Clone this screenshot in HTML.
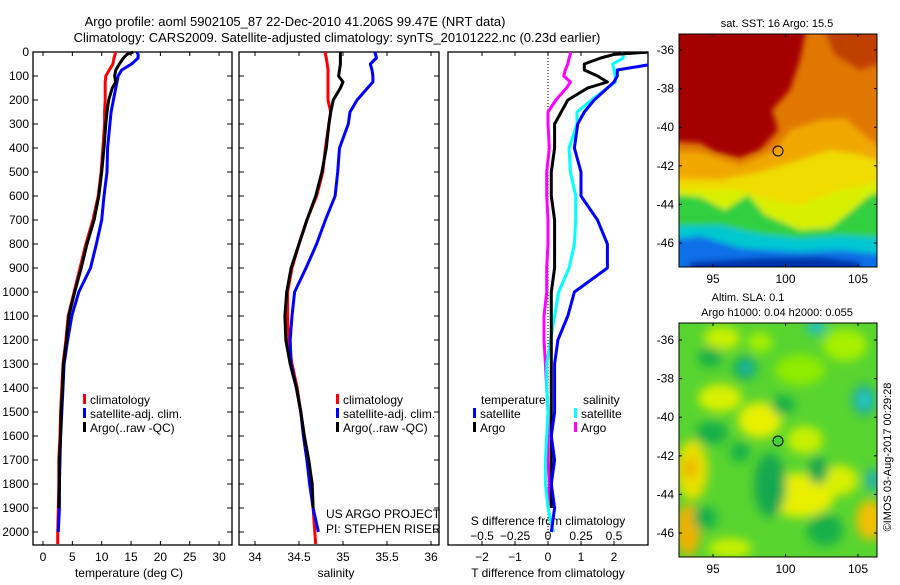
<!DOCTYPE html>
<html><head><meta charset="utf-8">
<style>
html,body{margin:0;padding:0;background:#fff;}
svg text{font-family:"Liberation Sans",sans-serif;fill:#000;}
</style></head>
<body>
<svg id="chart" width="900" height="580" viewBox="0 0 900 580" xmlns="http://www.w3.org/2000/svg">
<defs>
<filter id="blur1" x="-10%" y="-10%" width="120%" height="120%"><feGaussianBlur stdDeviation="3"/></filter>
<filter id="blur2" x="-20%" y="-20%" width="140%" height="140%"><feGaussianBlur stdDeviation="5"/></filter>
<clipPath id="c1"><rect x="448" y="52" width="200" height="493"/></clipPath>
<clipPath id="m1"><rect x="679" y="34" width="198" height="233"/></clipPath>
<clipPath id="m2"><rect x="679" y="323" width="198" height="234"/></clipPath>
</defs>
<text x="295" y="26" font-size="13" text-anchor="middle">Argo profile: aoml 5902105_87 22-Dec-2010 41.206S 99.47E (NRT data)</text>
<text x="337" y="42" font-size="13" text-anchor="middle">Climatology: CARS2009. Satellite-adjusted climatology: synTS_20101222.nc (0.23d earlier)</text>
<g id="g-profiles"></g>
<g id="map1">
 <g clip-path="url(#m1)">
  <rect x="679" y="34" width="198" height="233" fill="#e07800"/>
  <g filter="url(#blur1)">
   <polygon points="820,20 890,20 890,60 860,70 835,55" fill="#c04000"/>
   <polygon points="650,20 808,20 800,60 790,90 772,110 778,130 760,150 740,158 715,152 700,143 650,140" fill="#a40000"/>
   <polygon points="650,150 700,152 740,165 775,150 790,130 820,120 845,118 870,140 890,150 890,280 650,280" fill="#f0a800"/>
   <polygon points="650,178 720,180 760,172 800,160 830,150 860,155 890,165 890,280 650,280" fill="#f0dc00"/>
   <polygon points="650,188 700,190 740,190 770,200 800,205 840,190 890,180 890,280 650,280" fill="#d8f000"/>
   <polygon points="650,192 700,197 725,210 748,195 765,215 800,230 830,228 850,212 870,195 890,190 890,280 650,280" fill="#30d040"/>
   <polygon points="650,226 720,225 760,234 800,238 840,235 890,238 890,280 650,280" fill="#00c8d0"/>
   <polygon points="650,242 700,236 740,248 800,252 840,250 890,255 890,280 650,280" fill="#1070e8"/>
   <polygon points="690,262 760,258 820,257 860,262 860,280 690,280" fill="#0030a8"/>
  </g>
 </g>
 <rect x="679" y="34" width="198" height="233" fill="none" stroke="#000" stroke-width="1"/>
 <circle cx="778" cy="151" r="5" fill="none" stroke="#000" stroke-width="1"/>
 <text x="777" y="27" font-size="11" text-anchor="middle">sat. SST: 16 Argo: 15.5</text>
</g>
<g id="map2">
 <g clip-path="url(#m2)">
  <rect x="679" y="323" width="198" height="234" fill="#58d430"/>
  <g filter="url(#blur2)">
   <ellipse cx="722" cy="338" rx="18" ry="12" fill="#c8f000"/>
   <ellipse cx="760" cy="342" rx="12" ry="10" fill="#a8f000"/>
   <ellipse cx="845" cy="345" rx="22" ry="16" fill="#a8f000"/>
   <ellipse cx="800" cy="370" rx="25" ry="15" fill="#90ec00"/>
   <ellipse cx="720" cy="398" rx="22" ry="14" fill="#d8f000"/>
   <ellipse cx="760" cy="420" rx="22" ry="18" fill="#e8f000"/>
   <ellipse cx="805" cy="440" rx="18" ry="14" fill="#c8f000"/>
   <ellipse cx="692" cy="470" rx="16" ry="30" fill="#e8e000"/>
   <ellipse cx="690" cy="468" rx="7" ry="10" fill="#f0b000"/>
   <ellipse cx="800" cy="495" rx="35" ry="22" fill="#e8f000"/>
   <ellipse cx="840" cy="480" rx="18" ry="15" fill="#d8f000"/>
   <ellipse cx="870" cy="520" rx="14" ry="20" fill="#f0c000"/>
   <ellipse cx="688" cy="530" rx="12" ry="26" fill="#f0b000"/>
   <ellipse cx="730" cy="548" rx="22" ry="10" fill="#c8f000"/>
   <ellipse cx="710" cy="357" rx="12" ry="10" fill="#18b048"/>
   <ellipse cx="745" cy="368" rx="12" ry="12" fill="#18a860"/>
   <ellipse cx="746" cy="368" rx="5" ry="6" fill="#20c0c0"/>
   <ellipse cx="783" cy="405" rx="12" ry="10" fill="#18b048"/>
   <ellipse cx="712" cy="433" rx="16" ry="12" fill="#18b048"/>
   <ellipse cx="740" cy="452" rx="10" ry="10" fill="#18b048"/>
   <ellipse cx="770" cy="485" rx="16" ry="32" fill="#18a850"/>
   <ellipse cx="818" cy="470" rx="10" ry="14" fill="#18a850"/>
   <ellipse cx="864" cy="400" rx="12" ry="15" fill="#20b0a0"/>
   <ellipse cx="864" cy="400" rx="5" ry="7" fill="#20d0d0"/>
   <ellipse cx="873" cy="480" rx="7" ry="12" fill="#20b0b0"/>
   <ellipse cx="816" cy="327" rx="10" ry="8" fill="#20c0c0"/>
   <ellipse cx="825" cy="530" rx="18" ry="16" fill="#18b048"/>
   <ellipse cx="705" cy="518" rx="12" ry="12" fill="#18b048"/>
  </g>
 </g>
 <rect x="679" y="323" width="198" height="234" fill="none" stroke="#000" stroke-width="1"/>
 <circle cx="778" cy="441" r="5" fill="#48d038" stroke="#000" stroke-width="1"/>
 <text x="748" y="301" font-size="11" text-anchor="middle">Altim. SLA: 0.1</text>
 <text x="777" y="316" font-size="11" text-anchor="middle">Argo h1000: 0.04 h2000: 0.055</text>
</g>
<text transform="translate(891,457) rotate(-90)" font-size="11" text-anchor="middle">©IMOS 03-Aug-2017 00:29:28</text>
<g id="g-maps-axes"></g>
</svg>
<script>
const depths = [0,10,25,50,75,100,125,150,200,250,300,400,500,600,700,800,900,1000,1100,1200,1300,1400,1500,1600,1700,1800,1900,2000,2050];
const tClim = [12.3,12.3,12.1,11.9,11.3,10.7,10.6,10.6,10.6,10.5,10.5,10.2,9.9,9.4,8.5,7.3,6.3,5.3,4.3,3.9,3.4,3.2,3.0,2.9,2.7,2.7,2.6,2.5,2.5];
const tSat = [16.0,16.2,16.2,15.1,13.4,12.8,12.6,12.4,12.0,11.6,11.4,11.0,10.9,10.4,10.0,9.1,8.1,6.1,4.9,4.2,3.6,3.4,3.2,3.0,2.9,2.8,2.8,2.6,null];
const tArgo = [15.4,14.3,13.7,13.0,12.4,12.2,12.4,11.8,11.2,10.9,10.7,10.4,10.0,9.5,8.7,7.5,6.5,5.4,4.4,4.0,3.5,3.3,3.1,3.0,2.8,2.8,2.7,null,null];
const sClim = [34.80,34.80,34.81,34.82,34.83,34.83,34.83,34.83,34.83,34.86,34.84,34.80,34.77,34.70,34.59,34.50,34.42,34.37,34.37,34.38,34.42,34.48,34.52,34.56,34.61,34.64,34.66,34.68,34.69];
const sSat = [35.36,35.37,35.38,35.31,35.33,35.34,35.34,35.28,35.16,35.08,35.06,34.96,34.94,34.91,34.80,34.70,34.58,34.45,34.42,34.40,34.41,34.47,34.52,34.55,34.59,34.62,34.66,34.72,null];
const sArgo = [34.97,34.97,34.97,34.97,34.96,34.95,35.00,34.97,34.89,34.86,34.84,34.81,34.76,34.69,34.59,34.50,34.41,34.36,34.34,34.35,34.40,34.47,34.52,34.56,34.61,34.65,34.66,null,null];
const depthTicks = [0,100,200,300,400,500,600,700,800,900,1000,1100,1200,1300,1400,1500,1600,1700,1800,1900,2000];
const tTicks = [0,5,10,15,20,25,30];
const sTicks = [34,34.5,35,35.5,36];
const tdTicks = [-2,-1,0,1,2];
const tdLabels = ["\u22122","\u22121","0","1","2"];
const sdTicks = [-0.5,-0.25,0,0.25,0.5];
const sdLabels = ["\u22120.5","\u22120.25","0","0.25","0.5"];
const lonTicks = [95,100,105];
const latTicks = [-36,-38,-40,-42,-44,-46];

const NS='http://www.w3.org/2000/svg';
const root=document.getElementById('g-profiles');
function mk(tag,attrs,parent){const e=document.createElementNS(NS,tag);for(const k in attrs)e.setAttribute(k,attrs[k]);(parent||root).appendChild(e);return e;}
const yD = d => 52 + d*0.24;
const xT = t => 43 + t*5.87;
const xS = s => 255 + (s-34)*88;
const xTd = v => 548 + v*33;
const xSd = v => 548 + v*132;

function line(xs, xf, color, parent, name){
  let d='';let pen=false;
  for(let i=0;i<depths.length;i++){
    if(xs[i]==null){pen=false;continue;}
    d+=(pen?'L':'M')+xf(xs[i]).toFixed(1)+','+yD(depths[i]).toFixed(1);pen=true;
  }
  const p=mk('path',{d:d,fill:'none',stroke:color,'stroke-width':3,'stroke-linejoin':'round'},parent);
  
  
  return p;
}
function diff(a,b){return a.map((v,i)=>(v==null||b[i]==null)?null:v-b[i]);}
function txt(x,y,s,size,anchor,parent){const t=mk('text',{x:x,y:y,'font-size':size,'text-anchor':anchor||'start'},parent);t.textContent=s;return t;}

const panels=[[33,232],[239,439],[448,648]];
panels.forEach((p,i)=>{
  const g=mk('g',{});
  
  
  mk('rect',{x:p[0],y:52,width:p[1]-p[0],height:493,fill:'none',stroke:'#000','stroke-width':1.3},g);
  if(i<2){
    depthTicks.forEach(d=>{
      mk('line',{x1:p[0],x2:p[0]+5,y1:yD(d),y2:yD(d),stroke:'#000'},g);
      mk('line',{x1:p[1]-5,x2:p[1],y1:yD(d),y2:yD(d),stroke:'#000'},g);
    });
  }
});
depthTicks.forEach(d=>{const t=txt(29,yD(d)+4,String(d),12,'end');});
tTicks.forEach(v=>{
  mk('line',{x1:xT(v),x2:xT(v),y1:52,y2:56,stroke:'#000'});
  mk('line',{x1:xT(v),x2:xT(v),y1:541,y2:545,stroke:'#000'});
  const t=txt(xT(v),561,String(v),12,'middle');
  
  
});
let at=txt(129,577,'temperature (deg C)',12,'middle');
sTicks.forEach(v=>{
  mk('line',{x1:xS(v),x2:xS(v),y1:52,y2:56,stroke:'#000'});
  mk('line',{x1:xS(v),x2:xS(v),y1:541,y2:545,stroke:'#000'});
  const t=txt(xS(v),561,String(v),12,'middle');
  
  
});
at=txt(336,577,'salinity',12,'middle');
tdTicks.forEach((v,i)=>{
  mk('line',{x1:xTd(v),x2:xTd(v),y1:52,y2:56,stroke:'#000'});
  mk('line',{x1:xTd(v),x2:xTd(v),y1:541,y2:545,stroke:'#000'});
  const t=txt(xTd(v),561,tdLabels[i],12,'middle');
  
  
});
at=txt(548,577,'T difference from climatology',12,'middle');
sdTicks.forEach((v,i)=>{
  const t=txt(xSd(v),540,sdLabels[i],12,'middle');
  
  
});
at=txt(548,525,'S difference from climatology',12,'middle');
mk('line',{x1:548,x2:548,y1:52,y2:545,stroke:'#000','stroke-dasharray':'1,2'});

line(tClim,xT,'#ff0000',root,'temperature-climatology-line');
line(tSat,xT,'#0000ff',root,'temperature-satellite-line');
line(tArgo,xT,'#000000',root,'temperature-argo-line');
line(sClim,xS,'#ff0000',root,'salinity-climatology-line');
line(sSat,xS,'#0000ff',root,'salinity-satellite-line');
line(sArgo,xS,'#000000',root,'salinity-argo-line');
const cg=mk('g',{'clip-path':'url(#c1)'});
line(diff(sArgo,sClim),xSd,'#ff00ff',cg,'salinity-argo-difference-line');
line(diff(sSat,sClim),xSd,'#00ffff',cg,'salinity-satellite-difference-line');
line(diff(tArgo,tClim),xTd,'#000000',cg,'temperature-argo-difference-line');
line(diff(tSat,tClim),xTd,'#0000ff',cg,'temperature-satellite-difference-line');

function legend(x,y,color,label,name){
  const g=mk('g',{});
  
  
  mk('rect',{x:x,y:y-10,width:3,height:10,fill:color},g);
  txt(x+7,y,label,12,'start',g);
}
legend(83,404,'#ff0000','climatology','legend-climatology');
legend(83,418,'#0000ff','satellite-adj. clim.','legend-satellite-adj');
legend(83,432,'#000000','Argo(..raw -QC)','legend-argo');
legend(336,404,'#ff0000','climatology','legend-climatology-salinity');
legend(336,418,'#0000ff','satellite-adj. clim.','legend-satellite-adj-salinity');
legend(336,432,'#000000','Argo(..raw -QC)','legend-argo-salinity');
at=txt(481,404,'temperature',12);
at=txt(583,404,'salinity',12);
legend(473,418,'#0000ff','satellite','legend-t-satellite');
legend(473,432,'#000000','Argo','legend-t-argo');
legend(574,418,'#00ffff','satellite','legend-s-satellite');
legend(574,432,'#ff00ff','Argo','legend-s-argo');
at=txt(326,518,'US ARGO PROJECT',12);
at=txt(326,533,'PI: STEPHEN RISER',12);

const ma=document.getElementById('g-maps-axes');
const xLon = v => 713 + (v-95)*14.5;
[[34,267,50],[323,557,340]].forEach((m,mi)=>{
  const yLat = v => m[2] + (-36 - v)*19.3;
  lonTicks.forEach(v=>{
    mk('line',{x1:xLon(v),x2:xLon(v),y1:m[0],y2:m[0]+3,stroke:'#000'},ma);
    mk('line',{x1:xLon(v),x2:xLon(v),y1:m[1]-3,y2:m[1],stroke:'#000'},ma);
    const t=txt(xLon(v),m[1]+16,String(v),12,'middle',ma);
    
    
  });
  latTicks.forEach(v=>{
    mk('line',{x1:679,x2:682,y1:yLat(v),y2:yLat(v),stroke:'#000'},ma);
    mk('line',{x1:874,x2:877,y1:yLat(v),y2:yLat(v),stroke:'#000'},ma);
    const t=txt(674,yLat(v)+4,String(v),12,'end',ma);
    
    
  });
});
</script>
</body></html>
